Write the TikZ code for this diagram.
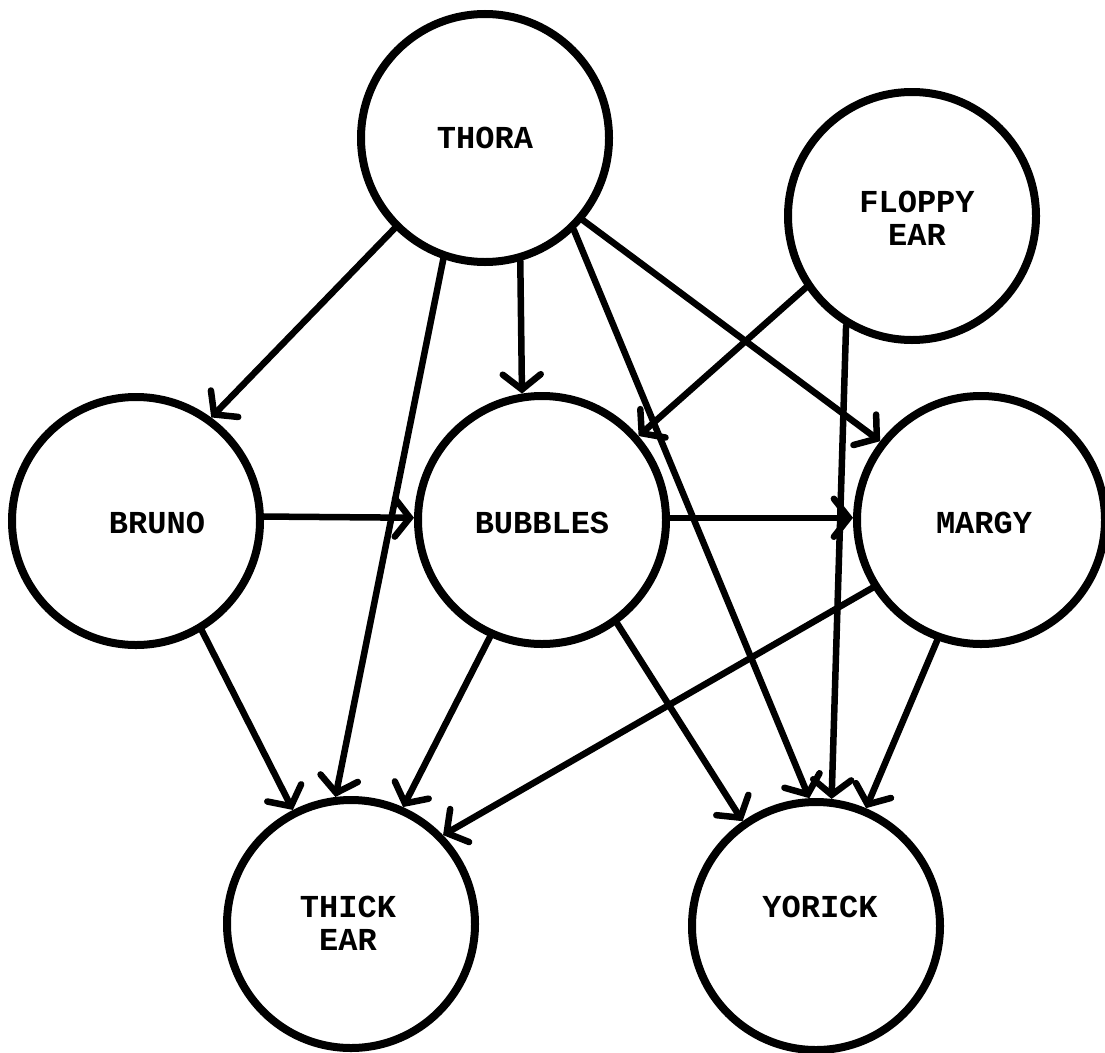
\documentclass[tikz,border=0pt]{standalone}
\usepackage{fontspec}
\setmainfont{Liberation Mono}
\usetikzlibrary{arrows.meta}
\begin{document}
\begin{tikzpicture}[x=1pt,y=-1pt,
  pers/.style={circle,draw,line width=8pt,minimum size=248pt,inner sep=0pt},
  lbl/.style={font=\bfseries\fontsize{32}{33}\selectfont,align=center,inner sep=0pt},
  edge/.style={line width=6.5pt,line cap=round,-{Straight Barb[length=15pt,width=38pt,line cap=round]}}]
\useasboundingbox (0,0) rectangle (1105,1052);
\node[pers] (thora) at (485,138) {};
\node[pers] (floppy) at (912,216) {};
\node[pers] (bruno) at (136,521) {};
\node[pers] (bubbles) at (542,520) {};
\node[pers] (margy) at (981,520) {};
\node[pers] (thick) at (351,924) {};
\node[pers] (yorick) at (816,926) {};
\node[lbl] (thoraT) at (485,138) {THORA};
\node[lbl] (floppyT) at (917,218) {FLOPPY\\EAR};
\node[lbl] (brunoT) at (157,523) {BRUNO};
\node[lbl] (bubblesT) at (542,523) {BUBBLES};
\node[lbl] (margyT) at (984,523) {MARGY};
\node[lbl] (thickT) at (348,923) {THICK\\EAR};
\node[lbl] (yorickT) at (820,907) {YORICK};
\draw[edge] (thora.225) -- (bruno.54);
\draw[edge] (thora.251) -- (thick.97);
\draw[edge] (thora.286) -- (bubbles.99);
\draw[edge] (thora.314) -- (yorick.93);
\draw[edge] (thora.320) -- (margy.142);
\draw[edge] (floppy.214) -- (bubbles.41);
\draw[edge] (floppy.239) -- (yorick.83);
\draw[edge] (bruno.2) -- (bubbles.179);
\draw[edge] (bruno.301) -- (thick.117);
\draw[edge] (bubbles.1) -- (margy.179);
\draw[edge] (bubbles.246) -- (thick.66);
\draw[edge] (bubbles.306) -- (yorick.125);
\draw[edge] (margy.212) -- (thick.44);
\draw[edge] (margy.250) -- (yorick.67);
\end{tikzpicture}
\end{document}
